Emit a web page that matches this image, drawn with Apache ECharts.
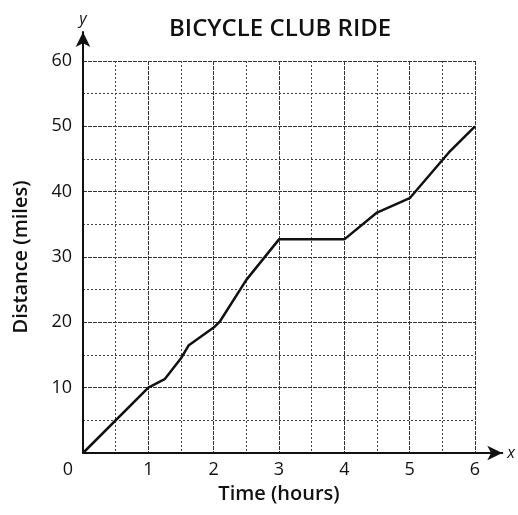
<!DOCTYPE html>
<html>
<head>
<meta charset="utf-8">
<script src="https://cdn.jsdelivr.net/npm/echarts@6/dist/echarts.min.js"></script>
<style>html,body{margin:0;padding:0;background:#fff;}#c{width:518px;height:515px;}</style>
</head>
<body>
<div id="c"></div>
<script>
const titleText = 'BICYCLE CLUB RIDE';
const xAxisTitle = 'Time (hours)';
const yAxisTitle = 'Distance (miles)';
const timeHours = [0, 1, 1.25, 1.5, 1.62, 2, 2.1, 2.5, 3, 4, 4.5, 5, 5.6, 6];
const distanceMiles = [0, 10, 11.3, 14.5, 16.5, 19.2, 20.2, 26.5, 32.7, 32.7, 36.8, 39, 46, 50];
const xTicks = [0, 1, 2, 3, 4, 5, 6];
const yTicks = [0, 10, 20, 30, 40, 50, 60];

const FONT = '"Open Sans", "Noto Sans", sans-serif';
const chart = echarts.init(document.getElementById('c'), null, {renderer: 'canvas'});
const pts = timeHours.map((t, i) => [t, distanceMiles[i]]);

chart.setOption({
  animation: false,
  backgroundColor: '#fff',
  title: {
    text: titleText, left: 164, top: 12,
    textStyle: {fontFamily: FONT, fontSize: 24, fontWeight: 600, color: '#111'}
  },
  grid: [
    {left: 83, right: 43, top: 61, bottom: 62},
    {left: 83, right: 15, top: 32, bottom: 62}
  ],
  xAxis: [
    {
      gridIndex: 0, type: 'value', min: xTicks[0], max: xTicks[xTicks.length - 1], interval: 1,
      name: xAxisTitle, nameLocation: 'middle', nameGap: 30,
      nameTextStyle: {fontFamily: FONT, fontSize: 20, fontWeight: 600, color: '#111'},
      axisLine: {show: false}, axisTick: {show: false},
      axisLabel: {
        margin: 8, fontFamily: FONT, fontSize: 18, color: '#111',
        formatter: v => v === 0 ? '{o|0}' : String(v),
        rich: {o: {fontFamily: FONT, fontSize: 18, color: '#111', padding: [0, 30, 0, 0]}}
      },
      splitLine: {show: true, lineStyle: {color: '#333', width: 1, type: [4, 1]}},
      minorTick: {show: false, splitNumber: 2},
      minorSplitLine: {show: true, lineStyle: {color: '#444', width: 1, type: [2, 2]}}
    },
    {
      gridIndex: 1, type: 'value', min: 0, max: 1,
      name: 'x', nameLocation: 'end', nameGap: 5,
      nameTextStyle: {fontFamily: FONT, fontSize: 16, fontStyle: 'italic', color: '#111', verticalAlign: 'middle'},
      axisLine: {show: true, symbol: ['none', 'arrow'], symbolSize: [11, 15],
        lineStyle: {color: '#111', width: 2}},
      axisTick: {show: false}, axisLabel: {show: false}, splitLine: {show: false}
    }
  ],
  yAxis: [
    {
      gridIndex: 0, type: 'value', min: yTicks[0], max: yTicks[yTicks.length - 1], interval: 10,
      name: yAxisTitle, nameLocation: 'middle', nameGap: 52,
      nameTextStyle: {fontFamily: FONT, fontSize: 20, fontWeight: 600, color: '#111'},
      axisLine: {show: false}, axisTick: {show: false},
      axisLabel: {
        margin: 11, fontFamily: FONT, fontSize: 18, color: '#111',
        formatter: v => v === 0 ? '' : String(v)
      },
      splitLine: {show: true, lineStyle: {color: '#333', width: 1, type: [4, 1]}},
      minorTick: {show: false, splitNumber: 2},
      minorSplitLine: {show: true, lineStyle: {color: '#444', width: 1, type: [2, 2]}}
    },
    {
      gridIndex: 1, type: 'value', min: 0, max: 1,
      name: 'y', nameLocation: 'end', nameGap: 5,
      nameTextStyle: {fontFamily: FONT, fontSize: 16, fontStyle: 'italic', color: '#111', align: 'center'},
      axisLine: {show: true, symbol: ['none', 'arrow'], symbolSize: [11, 15],
        lineStyle: {color: '#111', width: 2}},
      axisTick: {show: false}, axisLabel: {show: false}, splitLine: {show: false}
    }
  ],
  series: [{
    type: 'line', xAxisIndex: 0, yAxisIndex: 0,
    data: pts, showSymbol: false, symbol: 'none', smooth: false,
    lineStyle: {color: '#111', width: 2.5}, z: 5
  }]
});
</script>
</body>
</html>
